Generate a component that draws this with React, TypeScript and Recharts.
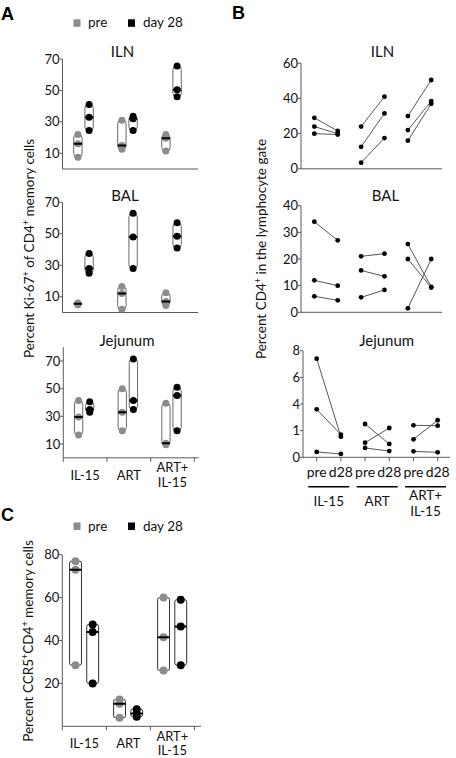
import React from "react";
import { ComposedChart, XAxis, YAxis, Scatter, ReferenceArea } from "recharts";

const FONT = "Lato, 'Noto Sans', sans-serif";
const GREY = "#8c8c8c";
const AXIS = "#595959";
const TXT = "#111";

// ---------- labels ----------
const groupLabels: string[][] = [["IL-15"], ["ART"], ["ART+", "IL-15"]];
const timeLabels = ["pre", "d28", "pre", "d28", "pre", "d28"];
const legendLabels = ["pre", "day 28"];
const titles = ["ILN", "BAL", "Jejunum"];

// ---------- Panel A: % Ki-67+ of CD4+ memory cells (per group: IL-15, ART, ART+IL-15) ----------
const kiTicks = [10, 30, 50, 70];
const aIlnPre = [[22, 16, 7.5], [31, 15, 12.5], [22, 19.5, 11.5]];
const aIlnD28 = [[41, 33, 24.5], [33.5, 32, 24.5], [65.5, 50.5, 46]];
const aBalPre = [[6, 5.5, 5], [16.5, 12, 2], [12.5, 7, 4.5]];
const aBalD28 = [[37.5, 28, 25], [63, 48, 28], [57, 48.5, 41]];
const aJejPre = [[41.5, 29.5, 16.5], [50, 33, 19.5], [39.5, 10.5, 9.5]];
const aJejD28 = [[40.5, 35, 33], [71.5, 41.5, 35], [51, 45, 19.5]];

// ---------- Panel B: % CD4+ in lymphocyte gate (per animal, pre -> d28) ----------
const bIlnTicks = [0, 20, 40, 60];
const bIlnPre = [[29, 24, 20], [24, 12.5, 3.5], [30, 22, 16]];
const bIlnD28 = [[21.5, 20, 19.5], [41, 31.5, 17.5], [50.5, 38.5, 37]];
const bBalTicks = [0, 10, 20, 30, 40];
const bBalPre = [[34, 12, 6], [21, 15.7, 5.6], [25.6, 20, 1.5]];
const bBalD28 = [[27, 10, 4.5], [22, 13.5, 8.4], [9.5, 9.3, 20]];
const bJejTicks = [0, 2, 4, 6, 8];
const bJejTickLabels = ["0", "1", "4", "6", "8"];
const bJejPre = [[7.4, 3.6, 0.4], [2.5, 1.1, 0.7], [2.4, 1.35, 0.45]];
const bJejD28 = [[1.55, 1.7, 0.25], [1.0, 2.2, 0.47], [2.37, 2.78, 0.37]];

// ---------- Panel C: % CCR5+CD4+ memory cells ----------
const cTicks = [20, 40, 60, 80];
const cPre = [[77, 73, 28.5], [12.5, 10.5, 4], [60, 41.5, 26]];
const cD28 = [[47.5, 44, 20], [8, 6, 4.5], [59, 46.5, 28.5]];

function median(v: number[]) {
  const s = [...v].sort((a, b) => a - b);
  return s[Math.floor(s.length / 2)];
}

type BoxProps = {
  left: number; top: number; width: number;
  plotLeft: number; plotRight: number; plotTop: number; plotBottom: number;
  xMax: number; yDomain: [number, number]; yTicks: number[];
  pre: number[][]; d28: number[][];
  bw: number; medW: number; offPre: number; offD28: number; r: number; rx: number;
  boxStroke: string; labels?: boolean; axisH?: number;
};

// tick renderer for box panels: boundary tick marks at integers, group labels at half values
function BoxAxisTick(props: any) {
  const { x, y, payload } = props;
  const v = payload.value as number;
  if (Number.isInteger(v)) {
    return <line x1={x} x2={x} y1={y} y2={y + 4} stroke={AXIS} strokeWidth={1} />;
  }
  const lines = groupLabels[Math.floor(v)] || [];
  const base = lines.length === 1 ? [21.8] : [14.5, 29];
  return (
    <text textAnchor="middle" fontSize={13} fontFamily={FONT} fill={TXT}>
      {lines.map((l, i) => (
        <tspan key={i} x={x} y={y + base[i]}>{l}</tspan>
      ))}
    </text>
  );
}

function BoxChart(p: BoxProps) {
  const axisH = p.axisH ?? 10;
  const height = p.plotBottom - p.top + axisH;
  const margin = { top: p.plotTop - p.top, right: p.left + p.width - p.plotRight, bottom: 0, left: 0 };
  const series = [
    { vals: p.pre, off: p.offPre, fill: GREY },
    { vals: p.d28, off: p.offD28, fill: "#000" },
  ];
  const boxes = series.flatMap((s, si) =>
    s.vals.map((v, g) => {
      const c = g + 0.5 + s.off;
      return { key: `${si}-${g}`, c, x1: c - p.bw / 2, x2: c + p.bw / 2, lo: Math.min(...v), hi: Math.max(...v), med: median(v) };
    })
  );
  const dots = series.map((s) => s.vals.flatMap((v, g) => v.map((y) => ({ x: g + 0.5 + s.off, y }))));
  const meds = boxes.map((b) => ({ x: b.c, y: b.med }));
  const xTicks = p.labels ? [0, 0.5, 1, 1.5, 2, 2.5, 3] : [0, 1, 2, 3];
  return (
    <div style={{ position: "absolute", left: p.left, top: p.top }}>
      <ComposedChart width={p.width} height={height} margin={margin}>
        {p.labels ? (
          <XAxis type="number" dataKey="x" domain={[0, p.xMax]} ticks={xTicks} interval={0} tickLine={false}
            tickSize={0} tickMargin={0} tick={BoxAxisTick} height={axisH} stroke={AXIS} allowDataOverflow />
        ) : (
          <XAxis type="number" dataKey="x" domain={[0, p.xMax]} ticks={xTicks} interval={0} tick={false}
            tickSize={4} height={axisH} stroke={AXIS} allowDataOverflow />
        )}
        <YAxis type="number" dataKey="y" domain={p.yDomain} ticks={p.yTicks} interval={0} width={p.plotLeft - p.left}
          tickSize={3} tickMargin={0} stroke={AXIS} tick={{ fill: TXT, fontSize: 13, fontFamily: FONT }} allowDataOverflow />
        {boxes.map((b) => (
          <ReferenceArea key={"a" + b.key} x1={b.x1} x2={b.x2} y1={b.lo} y2={b.hi} ifOverflow="visible"
            shape={(sp: any) => (
              <rect x={sp.x} y={sp.y} width={sp.width} height={sp.height} rx={p.rx} ry={p.rx}
                fill="none" stroke={p.boxStroke} strokeWidth={1} />
            )} />
        ))}
        {series.map((s, i) => (
          <Scatter key={"s" + i} data={dots[i]} isAnimationActive={false}
            shape={(sp: any) => <circle cx={sp.cx} cy={sp.cy} r={p.r} fill={s.fill} />} />
        ))}
        <Scatter data={meds} isAnimationActive={false}
          shape={(sp: any) => (
            <line x1={sp.cx - p.medW / 2} x2={sp.cx + p.medW / 2} y1={sp.cy} y2={sp.cy} stroke="#000" strokeWidth={2} />
          )} />
      </ComposedChart>
    </div>
  );
}

type PairProps = {
  left: number; top: number; width: number;
  plotLeft: number; plotRight: number; plotTop: number; plotBottom: number;
  xDomain: [number, number]; yDomain: [number, number]; yTicks: number[]; yTickLabels?: string[];
  pre: number[][]; d28: number[][]; labels?: boolean;
};

// tick renderer for pair panel: pre/d28 at integer positions, group underline + label at pair centres
function PairAxisTick(props: any) {
  const { x, y, payload } = props;
  const v = payload.value as number;
  if (Number.isInteger(v)) {
    return (
      <g>
        <line x1={x} x2={x} y1={y} y2={y + 4} stroke={AXIS} strokeWidth={1} />
        <text x={x} y={y + 20} textAnchor="middle" fontSize={14} fontFamily={FONT} fill={TXT}>{timeLabels[v - 1]}</text>
      </g>
    );
  }
  const g = Math.round((v - 1.5) / 2);
  const lines = groupLabels[g] || [];
  const base = lines.length === 1 ? [48.7] : [42.7, 58.7];
  return (
    <g>
      <line x1={x - 20.5} x2={x + 20.5} y1={y + 29.4} y2={y + 29.4} stroke="#000" strokeWidth={1.5} />
      <text textAnchor="middle" fontSize={13.5} fontFamily={FONT} fill={TXT}>
        {lines.map((l, i) => (
          <tspan key={i} x={x} y={y + base[i]}>{l}</tspan>
        ))}
      </text>
    </g>
  );
}

function PairChart(p: PairProps) {
  const axisH = p.labels ? 66 : 10;
  const height = p.plotBottom - p.top + axisH;
  const margin = { top: p.plotTop - p.top, right: p.left + p.width - p.plotRight, bottom: 0, left: 0 };
  const pairs = p.pre.flatMap((vals, g) =>
    vals.map((v, i) => [{ x: 2 * g + 1, y: v }, { x: 2 * g + 2, y: p.d28[g][i] }])
  );
  return (
    <div style={{ position: "absolute", left: p.left, top: p.top }}>
      <ComposedChart width={p.width} height={height} margin={margin}>
        {p.labels ? (
          <XAxis type="number" dataKey="x" domain={p.xDomain} ticks={[1, 1.5, 2, 3, 3.5, 4, 5, 5.5, 6]} interval={0}
            tickLine={false} tickSize={0} tickMargin={0} height={axisH} stroke={AXIS} tick={PairAxisTick} allowDataOverflow />
        ) : (
          <XAxis type="number" dataKey="x" domain={p.xDomain} ticks={[1, 2, 3, 4, 5, 6]} interval={0}
            tickSize={4} height={axisH} stroke={AXIS} tick={false} allowDataOverflow />
        )}
        <YAxis type="number" dataKey="y" domain={p.yDomain} ticks={p.yTicks} interval={0} width={p.plotLeft - p.left}
          tickSize={3} tickMargin={0} stroke={AXIS} tick={{ fill: TXT, fontSize: 13, fontFamily: FONT }}
          tickFormatter={p.yTickLabels ? (v: number) => p.yTickLabels![p.yTicks.indexOf(v)] : undefined}
          allowDataOverflow />
        {pairs.map((d, i) => (
          <Scatter key={i} data={d} isAnimationActive={false} line={{ stroke: "#555", strokeWidth: 1 }}
            shape={(sp: any) => <circle cx={sp.cx} cy={sp.cy} r={2.4} fill="#000" />} />
        ))}
      </ComposedChart>
    </div>
  );
}

function Sup({ children }: { children: string }) {
  return <tspan fontSize={9} dy={-5}>{children}</tspan>;
}

function Legend({ y }: { y: number }) {
  return (
    <g fontFamily={FONT} fontSize={13.5} fill={TXT}>
      <rect x={73.5} y={y - 8} width={7} height={7.5} fill={GREY} />
      <text x={88} y={y}>{legendLabels[0]}</text>
      <rect x={128} y={y - 8} width={7} height={7.5} fill="#000" />
      <text x={143} y={y}>{legendLabels[1]}</text>
    </g>
  );
}

export default function App() {
  const aBox = { left: 0, width: 210, bw: 0.19, medW: 8.4, offPre: -0.15, offD28: 0.105, r: 3.5, rx: 3.5, boxStroke: "#666" };
  const bCommon = { left: 230, width: 222, plotLeft: 301, plotRight: 442, xDomain: [0.43, 6.46] as [number, number] };
  return (
    <div style={{ position: "absolute", left: 0, top: 0, width: 456, height: 758, background: "#fff", overflow: "hidden" }}>
      <BoxChart {...aBox} top={40} plotLeft={62.5} plotRight={198} plotTop={59} plotBottom={169} xMax={3.08}
        yDomain={[0, 70]} yTicks={kiTicks} pre={aIlnPre} d28={aIlnD28} />
      <BoxChart {...aBox} top={185} plotLeft={62.5} plotRight={198} plotTop={202.3} plotBottom={312.5} xMax={3.08}
        yDomain={[0, 70]} yTicks={kiTicks} pre={aBalPre} d28={aBalD28} />
      <BoxChart {...aBox} top={330} plotLeft={63.3} plotRight={198.7} plotTop={347.2} plotBottom={457.8} xMax={3.1}
        yDomain={[0, 80]} yTicks={kiTicks} pre={aJejPre} d28={aJejD28} labels axisH={40} />

      <PairChart {...bCommon} top={40} plotTop={63.3} plotBottom={168.8} yDomain={[0, 60]} yTicks={bIlnTicks}
        pre={bIlnPre} d28={bIlnD28} />
      <PairChart {...bCommon} top={185} plotTop={205.7} plotBottom={312.3} yDomain={[0, 40]} yTicks={bBalTicks}
        pre={bBalPre} d28={bBalD28} />
      <PairChart left={230} width={226} plotLeft={303} plotRight={450} xDomain={[0.434, 6.51]} top={330}
        plotTop={350.7} plotBottom={457.3} yDomain={[0, 8]} yTicks={bJejTicks} yTickLabels={bJejTickLabels}
        pre={bJejPre} d28={bJejD28} labels />

      <BoxChart left={0} width={210} top={540} plotLeft={62.3} plotRight={201} plotTop={554.7} plotBottom={726.3}
        xMax={3.15} yDomain={[0, 80]} yTicks={cTicks} pre={cPre} d28={cD28} bw={0.27} medW={12} offPre={-0.2} offD28={0.19}
        r={4} rx={2} boxStroke="#333" labels axisH={31.7} />

      <svg width={456} height={758} style={{ position: "absolute", left: 0, top: 0, pointerEvents: "none" }}>
        <g fontFamily="'Liberation Sans', Arial, sans-serif" fontWeight="bold" fontSize={18} fill="#000">
          <text x={1} y={20}>A</text>
          <text x={232} y={19}>B</text>
          <text x={1} y={521}>C</text>
        </g>
        <Legend y={27.3} />
        <Legend y={530.5} />
        <g fontFamily={FONT} fontSize={15} fill={TXT} textAnchor="middle">
          <text x={122.5} y={57.3}>{titles[0]}</text>
          <text x={125} y={200.7}>{titles[1]}</text>
          <text x={127} y={346}>{titles[2]}</text>
          <text x={382.5} y={57.3}>{titles[0]}</text>
          <text x={385.5} y={200.7}>{titles[1]}</text>
          <text x={386.7} y={346}>{titles[2]}</text>
        </g>
        <g fontFamily={FONT} fontSize={13.5} fill={TXT} textAnchor="middle">
          <text transform="translate(34,248.5) rotate(-90)">
            Percent Ki-67<Sup>+</Sup><tspan dy={5}> of CD4</tspan><Sup>+</Sup><tspan dy={5}> memory cells</tspan>
          </text>
          <text transform="translate(265.5,249) rotate(-90)">
            Percent CD4<Sup>+</Sup><tspan dy={5}> in the lymphocyte gate</tspan>
          </text>
          <text transform="translate(33,641) rotate(-90)">
            Percent CCR5<Sup>+</Sup><tspan dy={5}>CD4</tspan><Sup>+</Sup><tspan dy={5}> memory cells</tspan>
          </text>
        </g>
      </svg>
    </div>
  );
}
